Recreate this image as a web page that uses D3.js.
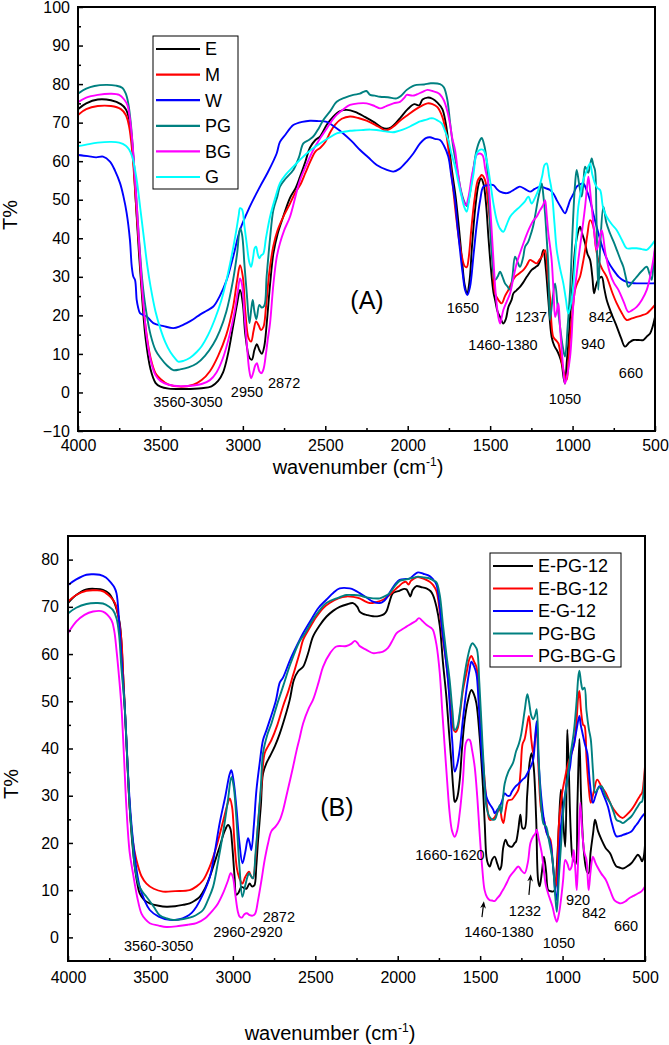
<!DOCTYPE html>
<html><head><meta charset="utf-8">
<script src="https://cdn.jsdelivr.net/npm/d3@7"></script>
<style>
body{margin:0;background:#fff}
svg{display:block}
text{font-family:"Liberation Sans",Arial,Helvetica,sans-serif;fill:#000}
</style>
</head><body><div id="chart"></div>
<script>
// ---------------- DATA ----------------
const xTicks = [4000,3500,3000,2500,2000,1500,1000,500];
const xMinor = [3750,3250,2750,2250,1750,1250,750];
const yTicksA = [-10,0,10,20,30,40,50,60,70,80,90,100];
const yMinorA = [-5,5,15,25,35,45,55,65,75,85,95];
const yTicksB = [0,10,20,30,40,50,60,70,80];
const yMinorB = [5,15,25,35,45,55,65,75];

const namesA = ["E","M","W","PG","BG","G"];
const colorsA = ["#000000","#ff0000","#0000ff","#008080","#ff00ff","#00ffff"];
const namesB = ["E-PG-12","E-BG-12","E-G-12","PG-BG","PG-BG-G"];
const colorsB = ["#000000","#ff0000","#0000ff","#008080","#ff00ff"];

// Panel A spectra: [wavenumber, T%]
const specE = [[4000,73.5],[3950,75],[3880,76],[3800,75.8],[3740,74.8],[3710,73.5],[3690,71],[3670,64],[3650,50],[3630,36],[3610,24],[3590,14],[3560,6],[3530,2.5],[3500,1.5],[3450,1],[3350,0.9],[3250,1.1],[3190,1.6],[3150,3],[3120,5.2],[3090,10],[3060,17],[3035,23],[3017,26.6],[3000,23],[2985,15],[2960,9],[2945,8.5],[2930,11],[2915,12.5],[2900,11],[2885,10],[2870,12],[2855,18],[2835,28],[2815,36],[2790,41],[2760,45],[2714,50.5],[2680,53],[2653,56],[2620,60],[2593,63.5],[2560,65.5],[2532,66.4],[2490,69.5],[2453,71.5],[2410,73],[2370,73.3],[2320,72.8],[2260,71.5],[2200,70],[2160,68.8],[2130,68.4],[2100,68.8],[2070,70],[2040,71.5],[2000,73.5],[1960,74.8],[1930,74.5],[1910,76],[1880,76.5],[1850,76.2],[1820,75.2],[1790,73.5],[1770,70],[1750,64],[1730,57],[1710,51],[1690,43],[1670,34],[1655,28],[1640,25.7],[1625,29],[1610,38],[1590,48],[1570,54],[1555,55.5],[1540,54],[1525,49],[1510,40],[1495,32],[1480,26],[1470,24],[1455,21],[1440,19.6],[1420,17.9],[1405,19],[1389,22.2],[1370,24],[1359,25.7],[1340,26.5],[1319,27.4],[1300,28.5],[1278,30],[1248,31.8],[1225,32.5],[1208,33.1],[1190,35],[1177,37],[1162,32],[1147,24],[1127,14.4],[1110,12],[1096,11],[1080,9.5],[1066,7.5],[1055,4],[1046,2.3],[1035,8],[1025,13],[1015,19.6],[1000,28],[985,37],[970,41],[955,43],[940,41],[924,38.7],[910,36],[894,34.4],[880,30],[870,25.7],[862,27],[854,28.3],[840,29.5],[823,30],[808,27],[793,24],[760,20],[732,17.1],[705,14],[682,11.9],[655,13],[631,13.6],[600,13.6],[571,13.6],[550,14.5],[530,15.3],[515,17],[500,19.6]];
const specM = [[4000,72],[3950,73.5],[3880,74.3],[3800,74.3],[3740,73.5],[3710,72],[3690,69],[3670,62],[3650,50],[3630,38],[3610,26],[3590,17],[3560,9],[3530,5],[3500,3.5],[3450,2],[3380,1.5],[3300,2],[3250,3.2],[3200,5.5],[3150,9.5],[3100,15],[3060,22],[3035,29],[3017,33],[3000,30],[2985,21],[2965,14],[2950,13.2],[2935,16],[2920,18.4],[2905,17.5],[2890,16.2],[2875,17],[2860,22],[2840,31],[2815,38],[2790,42],[2750,46],[2714,49],[2680,52],[2650,54],[2620,57],[2590,60],[2560,62.5],[2530,63.5],[2500,65],[2470,67.5],[2440,69.5],[2400,71],[2350,71.6],[2300,71.2],[2250,70.5],[2200,69.5],[2160,68.5],[2137,68],[2110,68.3],[2080,69.2],[2047,70.5],[2000,72],[1950,73.5],[1910,74.5],[1880,75],[1850,74.8],[1820,74],[1790,71.5],[1770,68],[1750,62],[1730,55],[1710,47],[1690,40],[1670,35],[1655,32.8],[1642,32.5],[1630,35],[1615,42],[1595,50],[1575,55],[1560,56],[1551,56.4],[1531,55.1],[1515,50],[1501,43.9],[1485,34],[1470,25.7],[1450,24],[1430,23.1],[1410,25],[1389,26.6],[1370,28.5],[1349,30],[1320,31],[1298,31.8],[1278,33],[1258,34.4],[1240,34],[1218,33.5],[1200,34.5],[1187,35.2],[1167,36.9],[1150,30],[1137,24.8],[1117,14.4],[1100,13.5],[1086,12.7],[1070,9],[1056,5.8],[1036,3.2],[1025,8],[1015,14.4],[1000,21],[985,26.6],[970,28.5],[955,30],[940,33],[924,36.9],[910,41],[894,44.7],[874,43],[860,38],[844,34.4],[820,32],[793,30],[760,26],[732,23.1],[700,20.5],[672,18.8],[640,19.2],[611,19.6],[580,20],[550,20.5],[525,21.5],[500,22.7]];
const specW = [[4000,61.6],[3940,61.3],[3890,61],[3848,61.2],[3806,59.9],[3775,57.5],[3745,54.3],[3725,51],[3705,46.6],[3685,39.6],[3674,32.7],[3664,30],[3654,29.2],[3644,24],[3635,22],[3624,20.6],[3600,20],[3583,19.7],[3543,18],[3480,17.2],[3422,16.7],[3380,17.2],[3341,18],[3300,19],[3260,20.2],[3220,21.2],[3179,22.3],[3140,25],[3098,29.2],[3060,35],[3017,42.2],[2960,48],[2896,53.4],[2850,57],[2795,62],[2775,65],[2740,67],[2714,68.5],[2694,69.4],[2640,70.2],[2593,70.5],[2540,70.4],[2491,70.2],[2440,68.8],[2391,67.2],[2340,65.2],[2289,62.9],[2240,61],[2188,59],[2130,57.8],[2087,57.3],[2050,58],[2006,59.9],[1966,62],[1925,64.6],[1890,66],[1865,66.2],[1835,65.8],[1804,65.5],[1780,64],[1754,61.2],[1735,56],[1713,49.9],[1698,43],[1683,37],[1667,31],[1652,26.6],[1638,25.3],[1622,27.4],[1600,36],[1580,44],[1560,50],[1541,53.4],[1510,53.8],[1480,53.8],[1460,52.8],[1440,52.1],[1400,51.7],[1380,52],[1359,52.5],[1340,53],[1319,53.4],[1290,52.8],[1258,52.1],[1230,52.8],[1197,53.4],[1165,53],[1137,52.5],[1115,51.5],[1096,49.9],[1070,48],[1046,46.5],[1030,48],[1015,49.9],[995,51.5],[975,53.4],[955,54],[935,54.2],[915,52.5],[894,49.9],[875,46.5],[854,43],[835,40],[813,36.9],[785,34],[753,31.8],[720,30],[690,29],[672,28.7],[640,28.4],[611,28.3],[560,28.3],[530,28.3],[510,28.3],[500,28.4]];
const specPG = [[4000,77.5],[3950,78.8],[3900,79.5],[3830,79.8],[3770,79.6],[3730,79],[3710,77.5],[3695,75],[3680,70],[3665,62],[3650,53],[3630,40],[3610,29],[3590,22],[3560,15],[3530,11],[3500,9],[3460,7],[3422,5.8],[3380,6],[3330,6.5],[3280,7.5],[3230,9.5],[3180,12.5],[3140,16],[3100,21],[3060,29],[3035,36],[3017,42.6],[3005,41],[2990,33],[2975,25],[2960,18],[2948,22],[2940,24],[2930,21],[2918,19],[2900,22.7],[2885,22],[2870,22.5],[2856,30],[2835,40],[2815,47.3],[2790,51],[2775,53.4],[2740,55.5],[2694,57.7],[2660,61],[2633,64.6],[2600,65.5],[2573,66.4],[2540,68.5],[2512,70.7],[2470,73],[2431,75.4],[2380,76.5],[2330,77.2],[2290,77.5],[2269,78],[2250,78.2],[2228,77.2],[2200,77],[2168,76.7],[2120,76.6],[2067,76.3],[2040,77],[2006,78.5],[1970,79.5],[1946,79.8],[1900,79.9],[1860,80.2],[1804,80],[1781,79.2],[1760,76],[1743,70],[1725,64],[1703,58.6],[1675,52],[1652,49],[1640,48.3],[1625,51],[1605,57],[1582,62.9],[1561,65.5],[1551,66],[1535,64],[1521,60],[1505,48],[1490,36],[1470,29.2],[1455,30],[1440,31.3],[1425,30],[1410,28.3],[1395,27.5],[1379,26.6],[1365,30],[1349,35.2],[1335,34],[1319,32.6],[1300,35],[1288,37.8],[1270,39],[1258,40.4],[1240,43],[1228,45.6],[1210,50],[1195,53],[1187,54.2],[1177,51],[1167,46.5],[1157,40],[1147,32.6],[1137,18.8],[1122,24],[1106,28.3],[1090,22],[1076,17.1],[1060,12],[1046,9.3],[1030,17],[1015,26.6],[1000,42],[985,54],[975,57.7],[960,54],[945,50.8],[935,54],[924,58.6],[905,57],[894,59],[884,60.7],[874,59],[864,57.7],[855,45],[844,26.6],[830,40],[813,48.2],[795,44],[773,41.3],[750,39],[732,37],[710,34.5],[692,32.6],[675,29.5],[662,27.4],[640,28.5],[611,30],[580,31.5],[550,32.6],[535,31],[520,29.2],[510,33],[500,37]];
const specBG = [[4000,75.3],[3950,76.5],[3880,77.2],[3800,77.5],[3750,77.2],[3720,76],[3700,74.5],[3685,71],[3670,65],[3655,56],[3640,46],[3625,36],[3605,24],[3585,15],[3560,8.5],[3530,4.5],[3500,3],[3450,2],[3380,1.6],[3300,1.8],[3250,2.2],[3200,3.2],[3160,5.2],[3120,9],[3080,15],[3050,21],[3030,26.5],[3017,29.6],[3005,28],[2990,20],[2975,12],[2962,6],[2950,3.7],[2938,5],[2925,7],[2915,7.6],[2900,5.5],[2888,5],[2875,6],[2860,10],[2848,14],[2835,18],[2815,28],[2795,35],[2775,38.7],[2750,42],[2714,45.6],[2680,51],[2653,55.1],[2610,59.5],[2573,62.9],[2530,66],[2491,68.5],[2460,70.5],[2431,72],[2390,73.5],[2350,74.6],[2300,75],[2249,75],[2200,74.3],[2168,73.7],[2130,74.3],[2087,75],[2047,75.4],[2020,76.5],[2006,77.2],[1970,77],[1946,77.3],[1910,78],[1880,78.5],[1850,78.2],[1820,77.8],[1804,77.3],[1781,75.8],[1760,73],[1745,70],[1730,66],[1713,62.9],[1698,58],[1683,53.4],[1665,50],[1647,48.6],[1630,51],[1612,56],[1597,59],[1582,61.6],[1561,62],[1545,61.5],[1530,58],[1511,54.2],[1495,45],[1480,34.4],[1465,25],[1450,19.5],[1440,17.9],[1430,19.5],[1420,21.4],[1400,23.5],[1379,25.7],[1360,29.5],[1339,33.5],[1320,36],[1298,38.7],[1278,41],[1258,43],[1240,44.5],[1218,45.6],[1197,47.3],[1180,48.5],[1167,49.9],[1157,46],[1147,41.3],[1137,38],[1127,34.4],[1115,26],[1106,19.6],[1096,21],[1086,23.1],[1076,17],[1066,11],[1056,6],[1046,2.3],[1030,5],[1015,9.3],[1005,15],[995,23.1],[980,29],[965,34.4],[945,41],[924,48.2],[914,52.5],[904,56],[894,52.5],[884,48.2],[870,42],[854,37],[840,39],[823,42.1],[800,36],[773,30.9],[750,28.5],[722,26.6],[690,23.5],[662,20.9],[640,21.3],[611,22.2],[580,24],[550,26.6],[525,31],[510,34.5],[500,37.8]];
const specG = [[4000,63.9],[3950,64.3],[3880,64.8],[3800,65],[3750,64.8],[3710,64],[3690,63],[3670,61],[3655,58],[3640,54],[3620,47],[3600,40],[3580,33],[3560,27.5],[3530,21],[3500,16.5],[3470,13],[3440,10.5],[3410,8.8],[3392,8],[3360,8.2],[3320,9],[3280,10.5],[3250,12],[3210,15],[3170,19],[3130,24],[3100,29],[3070,35],[3040,42],[3025,46],[3017,47.8],[3005,47.5],[2990,43],[2975,38],[2962,34],[2950,32.6],[2938,35],[2928,37.5],[2920,37.8],[2910,36],[2900,34.8],[2890,35.5],[2876,36],[2860,40],[2835,45.6],[2800,51],[2775,54.3],[2740,56.5],[2694,58.6],[2650,60.5],[2613,62],[2570,63.5],[2532,64.6],[2480,66],[2431,67.2],[2390,67.6],[2350,67.9],[2310,68],[2269,68.1],[2228,68.2],[2188,68.1],[2150,67.8],[2128,67.7],[2090,67.5],[2067,67.7],[2030,68.2],[1986,69],[1950,69.8],[1925,70.3],[1885,70.8],[1865,71.1],[1845,71.1],[1820,70.6],[1794,69.8],[1775,68],[1754,65.5],[1735,62],[1713,58.6],[1690,54],[1673,50.8],[1656,48],[1642,46.9],[1628,50],[1612,54],[1600,57],[1582,62],[1560,63],[1541,62.9],[1520,60],[1501,55.1],[1480,49],[1460,44.7],[1440,42.5],[1420,41.7],[1400,43.5],[1379,45.6],[1350,47],[1319,48.2],[1290,49.5],[1268,50.8],[1248,49],[1228,50.5],[1208,52.5],[1185,56],[1170,59],[1157,59.4],[1142,56],[1127,52.5],[1110,44],[1096,37],[1075,32],[1056,28.3],[1040,24],[1026,20.5],[1010,23],[995,28.3],[980,38],[965,48.2],[950,52],[935,55.1],[915,57.5],[894,59.4],[880,56.5],[864,54.2],[848,53],[833,52.5],[815,48],[793,45.6],[760,43.5],[732,42.1],[700,39.5],[672,37.4],[640,37.4],[611,37.4],[580,37.2],[550,37],[525,38],[500,39.5]];

// Panel B spectra
const specEPG = [[4000,70.8],[3950,72.5],[3888,73.7],[3830,73.8],[3788,73.6],[3750,72.8],[3727,71.5],[3705,69.5],[3686,66.5],[3675,62],[3666,55.9],[3656,49],[3646,41.8],[3636,34.5],[3626,27.7],[3610,20],[3595,15],[3580,11.5],[3565,9.3],[3540,8],[3504,7.2],[3450,6.7],[3403,6.5],[3350,6.6],[3300,6.9],[3262,7.2],[3230,7.8],[3201,8.6],[3170,10.3],[3140,12.8],[3110,16],[3080,19.2],[3050,22.5],[3029,23.8],[3015,23],[3005,20],[2990,13],[2979,9],[2965,9.5],[2948,10.7],[2935,10.5],[2918,10.3],[2898,11.4],[2885,10.8],[2870,11],[2858,15],[2847,20.6],[2830,28],[2817,34.7],[2795,37],[2776,38.3],[2745,40.5],[2715,43.2],[2685,46.5],[2655,50.3],[2630,54.5],[2605,56.3],[2574,57.3],[2545,60],[2514,63.7],[2475,66],[2433,67.9],[2390,69.2],[2352,70],[2310,70.5],[2271,70.8],[2245,70],[2231,69],[2210,68.5],[2190,68.3],[2150,68],[2109,68.1],[2085,68.4],[2069,69],[2050,71],[2029,72.9],[1990,73.4],[1960,73.8],[1947,73.7],[1935,73],[1923,72.2],[1910,73.5],[1887,74.4],[1860,74.2],[1826,73.9],[1800,73.3],[1786,72.5],[1765,70],[1745,66],[1725,58],[1705,51],[1690,44],[1674,36.9],[1662,31],[1654,28.7],[1640,29.5],[1624,33.3],[1610,40],[1594,46],[1575,50],[1553,52.4],[1538,51.5],[1523,49.6],[1503,42.5],[1483,31.9],[1472,24],[1462,17.1],[1452,15.5],[1442,15],[1427,16.5],[1412,17.1],[1395,15.5],[1381,14.3],[1372,15],[1360,19],[1346,20.7],[1330,19.5],[1307,19.2],[1290,20],[1282,20.3],[1268,23],[1256,26],[1243,23.1],[1230,23.1],[1215,30],[1200,37],[1188,39],[1175,36],[1160,25],[1148,12],[1139,10.8],[1125,14],[1113,17.1],[1100,14],[1087,10],[1074,9.8],[1061,9.7],[1048,10],[1035,15],[1022,24],[1010,31.3],[997,25],[984,19.2],[975,35],[971,44],[962,35],[950,22],[940,17],[932,16.4],[920,15.5],[910,28],[898,42],[888,30],[875,20],[860,15],[850,13.8],[842,13.6],[830,18],[815,22],[803,24.9],[785,22.5],[764,20.7],[740,19],[712,17.8],[690,16],[673,15],[655,14.8],[634,14.6],[610,15],[583,15.7],[560,16.8],[544,17.5],[530,17],[518,16.1],[508,17],[500,19.6]];
const specEBG = [[4000,71.1],[3950,72.5],[3888,73.4],[3830,73.5],[3788,73.3],[3740,72],[3715,70.8],[3695,68],[3676,63],[3666,56],[3656,48.9],[3641,38],[3626,27.7],[3605,20],[3585,16.4],[3555,13],[3524,11.4],[3480,10.3],[3424,9.7],[3350,9.8],[3262,10],[3220,10.8],[3181,12.1],[3140,15],[3100,19.2],[3060,24.5],[3030,28.5],[3019,29.4],[3005,27.7],[2990,20],[2975,14.5],[2960,12.5],[2942,11.4],[2925,12.8],[2902,13.9],[2890,13],[2878,12.5],[2862,17],[2847,24.2],[2827,32],[2807,39],[2786,40.5],[2766,41.8],[2730,45],[2696,48.9],[2665,52],[2635,55.5],[2595,60.2],[2574,63],[2535,65.5],[2493,67.9],[2450,69.8],[2413,70.8],[2360,71.8],[2311,72.2],[2270,72.1],[2231,71.8],[2200,71.2],[2170,70.8],[2130,71],[2089,71.5],[2060,72.2],[2029,73.2],[1995,74.3],[1968,75.1],[1950,75.3],[1935,74.7],[1920,75.5],[1897,76.1],[1877,76.3],[1840,75.9],[1806,75.3],[1785,74.6],[1765,73.3],[1745,69],[1725,63],[1705,58],[1685,51],[1670,46],[1660,43.9],[1648,43.5],[1636,44.3],[1620,48],[1604,52.4],[1580,56.5],[1565,59],[1553,59.6],[1538,58.5],[1523,57.3],[1503,49.6],[1488,40],[1473,33.3],[1457,27.5],[1442,24.9],[1427,25],[1412,25.4],[1396,26.5],[1381,27.1],[1368,25],[1359,24.2],[1345,27],[1330,29],[1307,29.2],[1290,30],[1268,31.3],[1255,35],[1243,40.9],[1230,42],[1215,45],[1204,46.9],[1190,42],[1178,39],[1167,42],[1157,44.6],[1145,35],[1130,27],[1113,24.9],[1095,22],[1074,20.7],[1060,16],[1048,12],[1040,11],[1030,16],[1023,23.5],[1005,30],[984,34],[965,37],[945,39],[930,41],[915,46],[905,51],[898,52.2],[888,48],[875,45],[867,44.8],[855,38],[842,32],[829,28.5],[810,31],[790,33.4],[765,32],[738,30.6],[705,28],[673,26.3],[650,25.5],[634,25.3],[610,26],[583,27],[560,28.2],[544,29.2],[530,30],[518,30.6],[508,33],[500,36.2]];
const specEG = [[4000,74.6],[3950,75.8],[3888,76.8],[3850,76.9],[3808,76.8],[3770,76.2],[3737,75],[3720,74.2],[3706,72.9],[3690,67],[3676,59.5],[3666,54],[3656,48.9],[3646,42],[3636,34.8],[3620,26],[3606,20.6],[3585,14.5],[3565,10.7],[3535,7.8],[3504,5.8],[3450,4.4],[3383,3.7],[3330,3.8],[3282,4.4],[3250,5.2],[3221,6.5],[3180,9.2],[3140,12.8],[3110,18],[3080,24.2],[3045,30],[3020,34.5],[3009,35.4],[2995,33],[2979,27.7],[2960,20],[2942,15.7],[2925,18],[2908,21],[2898,20],[2888,18.5],[2872,24],[2857,31.2],[2837,37],[2817,41.8],[2795,44],[2776,46],[2740,50],[2715,54],[2696,55],[2650,59],[2595,63],[2574,64.4],[2530,67],[2480,69.8],[2433,71.5],[2390,73],[2352,73.9],[2291,73.9],[2260,73.5],[2231,72.9],[2190,72],[2150,71.1],[2109,70.8],[2085,71.2],[2069,71.8],[2040,73.5],[2010,75],[1988,75.7],[1950,75.9],[1927,76],[1900,76.8],[1877,77.3],[1845,77],[1806,76.5],[1785,75.8],[1765,74.7],[1748,71],[1730,65],[1712,60],[1695,54.5],[1680,47],[1668,41],[1654,35.1],[1640,36.5],[1624,39.7],[1605,46],[1583,52.4],[1565,56.5],[1553,58.4],[1538,57.5],[1523,55.9],[1508,49],[1493,40.4],[1478,34],[1462,29.8],[1447,28.5],[1432,27.7],[1420,27],[1412,26.3],[1396,27],[1381,27.7],[1366,29],[1351,30.5],[1335,30],[1320,30],[1307,30.9],[1285,32],[1268,32.5],[1243,33.4],[1225,34],[1210,35],[1195,36],[1178,37.7],[1167,42],[1157,45.8],[1145,37],[1130,30],[1113,24.9],[1095,22],[1074,20],[1055,14],[1042,9],[1035,7.9],[1025,14],[1010,23.5],[990,29],[971,33.4],[955,36],[945,39],[930,41],[915,44],[898,46.9],[890,45],[880,43.4],[865,41],[850,39],[835,33],[816,28.5],[800,30],[777,32],[750,30],[725,27.7],[700,24],[673,21.4],[650,21.5],[634,21.7],[610,22],[583,22.4],[560,23.5],[544,24.2],[520,25.5],[500,26.3]];
const specPGBG = [[4000,68.6],[3950,69.8],[3888,70.6],[3830,70.8],[3788,70.7],[3750,70],[3727,69.3],[3705,67.5],[3690,64],[3676,57],[3656,48.9],[3641,38],[3626,27.7],[3608,20],[3595,15],[3570,11],[3545,9.5],[3524,8.6],[3480,6.5],[3444,4.7],[3400,4],[3363,3.7],[3300,3.9],[3242,4.4],[3210,5],[3181,5.8],[3150,8],[3120,10.7],[3090,16],[3060,22],[3030,29],[3009,34],[2995,32],[2979,25.4],[2960,15],[2942,8.6],[2925,11],[2910,13],[2902,13.6],[2890,13],[2878,12.5],[2862,18],[2847,24.2],[2830,32],[2817,39],[2790,43],[2766,45.3],[2730,49.5],[2696,53.1],[2650,58],[2595,62.7],[2560,64.5],[2520,67],[2480,69],[2433,70.8],[2370,71.8],[2311,72.5],[2270,72.5],[2231,72.4],[2190,72],[2150,71.8],[2109,71.8],[2080,72.2],[2049,72.9],[2020,74.3],[1988,75.5],[1950,75.8],[1927,76],[1900,76.2],[1877,76.4],[1840,76.2],[1806,76],[1785,75.6],[1765,75.2],[1745,72.5],[1725,66],[1705,60],[1685,54.5],[1668,48],[1654,43.9],[1640,44.5],[1624,47.5],[1605,53],[1583,58],[1560,61.5],[1547,62.3],[1533,61.8],[1519,60.9],[1505,54],[1493,46],[1478,36],[1462,27.7],[1442,25.5],[1422,24.9],[1410,25],[1395,26.5],[1381,28],[1372,26.3],[1360,30],[1351,32.6],[1330,35],[1300,37],[1282,39.4],[1265,41],[1251,43],[1230,48],[1214,51.5],[1204,50],[1190,47],[1178,46.2],[1167,47],[1157,48.3],[1145,38],[1130,28],[1115,24],[1100,23.5],[1080,20],[1061,16.4],[1045,9],[1035,5.4],[1022,13],[1010,19.2],[995,27],[971,33.4],[955,38],[932,43.4],[915,50],[905,55],[898,56.5],[888,54],[878,52.5],[867,52.9],[855,48],[840,44],[829,42],[815,35],[803,30.6],[785,31.5],[764,32],[740,30],[712,28.5],[690,26.5],[673,24.9],[650,24.5],[634,24.2],[610,24.8],[583,25.6],[560,26.8],[544,27.7],[530,28.5],[518,28.8],[508,31],[500,35.5]];
const specPGBGG = [[4000,64.4],[3949,66.9],[3900,68.3],[3848,69],[3788,69],[3737,67.2],[3720,65],[3706,60.9],[3690,55],[3676,48.9],[3660,38],[3646,27.7],[3626,18],[3606,13.6],[3580,8.5],[3555,5.1],[3530,3.8],[3504,3],[3450,2.5],[3403,2.2],[3330,2.4],[3270,2.7],[3221,3],[3170,4],[3120,5.8],[3090,7.2],[3060,9.3],[3030,12],[3013,13.6],[3000,12.8],[2985,9],[2970,5.5],[2959,4.4],[2945,4.2],[2930,4.9],[2915,5.1],[2898,4.7],[2880,4.6],[2865,5],[2847,7.9],[2827,12],[2807,16.4],[2786,20],[2766,22.5],[2740,23.5],[2715,24.9],[2695,27],[2675,30],[2655,33],[2635,36.1],[2614,39.5],[2595,42.2],[2574,45.3],[2540,48.5],[2514,50.3],[2480,54],[2453,57.3],[2410,60.2],[2372,61.6],[2311,61.7],[2280,62.2],[2260,62.8],[2245,62.4],[2231,61.7],[2190,60.9],[2150,60.2],[2120,60.3],[2089,60.5],[2059,61.3],[2030,63],[2008,64.4],[1975,65.2],[1947,65.8],[1910,66.6],[1890,67],[1871,67.6],[1850,67],[1826,66.2],[1796,65.5],[1786,65.1],[1765,62],[1745,56],[1730,48],[1715,40.4],[1700,33],[1685,26.3],[1670,22.5],[1654,21.3],[1640,22.5],[1624,26.3],[1605,33],[1587,41.1],[1575,41.9],[1563,41.8],[1548,39.5],[1533,36.1],[1518,30],[1503,22],[1488,15],[1473,10],[1458,8.5],[1442,7.9],[1427,7.8],[1412,7.7],[1396,8.3],[1381,8.9],[1366,9.8],[1351,10.7],[1335,11.8],[1320,12.9],[1295,14],[1268,15],[1250,14.2],[1230,13.6],[1210,16],[1195,20],[1178,21.4],[1165,22],[1157,22.8],[1145,21],[1126,17.8],[1113,14],[1100,10.8],[1080,8.5],[1061,6.5],[1048,4.5],[1035,3.3],[1022,5],[1010,7.9],[997,12],[984,16.4],[970,15.5],[958,14.3],[945,15],[932,18.5],[922,14],[914,10],[904,18],[893,28.5],[880,22],[868,18],[855,16.4],[842,10],[830,14],[816,17.1],[803,16],[790,15],[765,13.5],[738,12.2],[712,10],[686,7.9],[665,7.4],[647,7.2],[620,7.6],[596,8.3],[570,8.8],[544,9.3],[520,9.8],[500,10.8]];

// Annotations: [text, wavenumber, T%]
const notesA = [["3560-3050",3333,-2.5],["2950",2975,0.1],["2872",2750,2.5],["1650",1665,21.9],["1460-1380",1422,12.3],["1237",1252,19.6],["842",828,19.6],["940",876,12.6],["1050",1046,-1.7],["660",646,5]];
const notesB = [["3560-3050",3450,-1.8],["2960-2920",2909,1.1],["2872",2721,4.3],["1660-1620",1683,17.5],["1460-1380",1386,1.1],["1232",1228,5.6],["920",906,7.9],["842",809,5.1],["660",615,2.4],["1050",1022,-1.2]];
const arrowsB = [[1489,4.3,6.9],[1204,9.0,12.6]];
const panelLabelA = ["(A)",2247,24];
const panelLabelB = ["(B)",2369,27.6];

// ---------------- DRAW ----------------
const W = 669, H = 1045;
const svg = d3.select("#chart").append("svg").attr("width",W).attr("height",H);
svg.append("rect").attr("width",W).attr("height",H).attr("fill","#fff");
const defs = svg.append("defs");
defs.append("marker").attr("id","arr").attr("viewBox","0 0 10 10").attr("refX",5).attr("refY",5)
  .attr("markerWidth",6).attr("markerHeight",7).attr("orient","auto")
  .append("path").attr("d","M0,1 L10,5 L0,9 L3,5 Z").attr("fill","#000");

function panel(cfg){
  const x = d3.scaleLinear().domain([4000,500]).range([cfg.l,cfg.r]);
  const y = d3.scaleLinear().domain(cfg.yd).range([cfg.b,cfg.t]);
  const g = svg.append("g");
  const id = "clip"+cfg.key;
  defs.append("clipPath").attr("id",id).append("rect")
    .attr("x",cfg.l).attr("y",cfg.t).attr("width",cfg.r-cfg.l).attr("height",cfg.b-cfg.t);
  const line = d3.line().x(d=>x(d[0])).y(d=>y(d[1])).curve(d3.curveCatmullRom.alpha(0.5));
  const lines = g.append("g").attr("clip-path",`url(#${id})`);
  cfg.series.forEach((s,i)=>{
    lines.append("path").attr("d",line(s)).attr("fill","none")
      .attr("stroke",cfg.colors[i]).attr("stroke-width",1.9).attr("stroke-linejoin","round");
  });
  const ax = g.append("g").attr("transform",`translate(0,${cfg.b})`)
    .call(d3.axisBottom(x).tickValues(xTicks).tickSize(-5).tickSizeOuter(0).tickPadding(cfg.xpad).tickFormat(d3.format("d")));
  const axm = g.append("g").attr("transform",`translate(0,${cfg.b})`)
    .call(d3.axisBottom(x).tickValues(xMinor).tickSize(-3).tickSizeOuter(0).tickFormat(""));
  const ay = g.append("g").attr("transform",`translate(${cfg.l},0)`)
    .call(d3.axisLeft(y).tickValues(cfg.yt).tickSize(-5).tickSizeOuter(0).tickPadding(cfg.ypad).tickFormat(d3.format("d")));
  const aym = g.append("g").attr("transform",`translate(${cfg.l},0)`)
    .call(d3.axisLeft(y).tickValues(cfg.ym).tickSize(-3).tickSizeOuter(0).tickFormat(""));
  [ax,axm,ay,aym].forEach(a=>{
    a.select(".domain").remove();
    a.selectAll("line").attr("stroke","#000").attr("stroke-width",1.5);
    a.selectAll("text").attr("font-size",16).attr("font-family","Liberation Sans, Arial, sans-serif").attr("fill","#000");
  });
  g.append("rect").attr("x",cfg.l).attr("y",cfg.t).attr("width",cfg.r-cfg.l).attr("height",cfg.b-cfg.t)
    .attr("fill","none").attr("stroke","#000").attr("stroke-width",2);
  g.selectAll("text.note").data(cfg.notes).enter().append("text").attr("class","note")
    .attr("x",d=>x(d[1])).attr("y",d=>y(d[2])).attr("dy","0.35em")
    .attr("text-anchor","middle").attr("font-size",14.5).text(d=>d[0]);
  g.append("text").attr("x",x(cfg.plabel[1])).attr("y",y(cfg.plabel[2])).attr("dy","0.35em")
    .attr("text-anchor","middle").attr("font-family","Liberation Serif, Times New Roman, serif")
    .attr("font-size",25).text(cfg.plabel[0]);
  g.append("text").attr("transform",`translate(${cfg.tx},${cfg.ty}) rotate(-90)`)
    .attr("text-anchor","middle").attr("dy","0.35em").attr("font-size",20).text("T%");
  const xt = g.append("text").attr("x",cfg.wx).attr("y",cfg.wy).attr("text-anchor","middle").attr("font-size",20);
  xt.append("tspan").text("wavenumber (cm");
  xt.append("tspan").attr("font-size",12).attr("dy",-8).text("-1");
  xt.append("tspan").attr("dy",8).text(")");
  const L = cfg.leg;
  g.append("rect").attr("x",L.x).attr("y",L.y).attr("width",L.w).attr("height",L.h)
    .attr("fill","#fff").attr("stroke","#000").attr("stroke-width",1);
  cfg.names.forEach((n,i)=>{
    const yy = L.y + L.first + i*L.step;
    g.append("line").attr("x1",L.x+3).attr("x2",L.x+3+L.len).attr("y1",yy).attr("y2",yy)
      .attr("stroke",cfg.colors[i]).attr("stroke-width",2.2);
    g.append("text").attr("x",L.x+8+L.len).attr("y",yy).attr("dy","0.35em")
      .attr("font-size",L.fs).text(n);
  });
  return {x,y,g};
}

const A = panel({key:"A",l:78,r:655,t:7,b:431,yd:[-10,100],yt:yTicksA,ym:yMinorA,xpad:9,ypad:8,
  series:[specE,specM,specW,specPG,specBG,specG],colors:colorsA,names:namesA,notes:notesA,plabel:panelLabelA,
  tx:10,ty:215,wx:358,wy:474,leg:{x:153,y:36,w:85,h:153,first:13,step:25.6,len:44,fs:18}});
const B = panel({key:"B",l:68,r:645,t:536,b:961,yd:[-5,85],yt:yTicksB,ym:yMinorB,xpad:11,ypad:9,
  series:[specEPG,specEBG,specEG,specPGBG,specPGBGG],colors:colorsB,names:namesB,notes:notesB,plabel:panelLabelB,
  tx:11,ty:784,wx:330,wy:1040,leg:{x:490,y:553,w:131,h:114,first:13,step:22.5,len:40,fs:18}});

B.g.selectAll("line.arrow").data(arrowsB).enter().append("line").attr("class","arrow")
  .attr("x1",d=>B.x(d[0])).attr("x2",d=>B.x(d[0])+1.5).attr("y1",d=>B.y(d[1])).attr("y2",d=>B.y(d[2]))
  .attr("stroke","#000").attr("stroke-width",1.2).attr("marker-end","url(#arr)");
</script>
</body></html>
